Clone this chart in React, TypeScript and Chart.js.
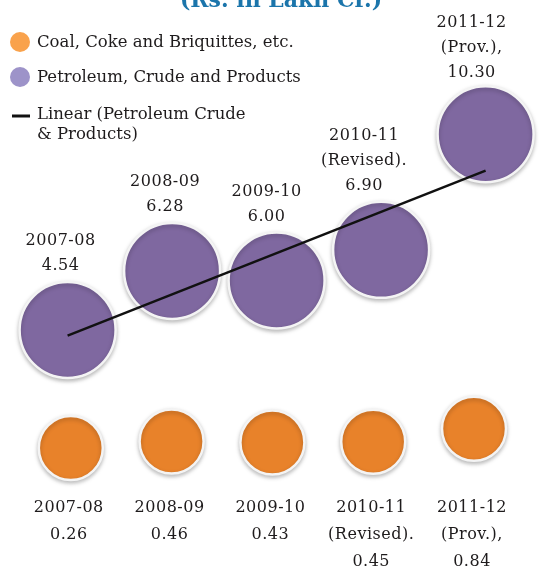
import React, { useEffect, useRef } from "react";
import { Chart, registerables } from "chart.js";

Chart.register(...registerables);

// ---- Data ----
const years = ["2007-08", "2008-09", "2009-10", "2010-11", "2011-12"];
const yearNotes = ["", "", "", "(Revised).", "(Prov.),"];
const petroleum = [4.54, 6.28, 6.0, 6.9, 10.3];
const coal = [0.26, 0.46, 0.43, 0.45, 0.84];
const titleText = "(Rs. in Lakh Cr.)";
const legendCoal = "Coal, Coke and Briquittes, etc.";
const legendPetroleum = "Petroleum, Crude and Products";
const legendTrendLines = ["Linear (Petroleum Crude", "& Products)"];

// ---- Styles / layout ----
const PURPLE = "#7f68a0";
const ORANGE = "#e8822a";
const LEGEND_PURPLE = "#9d93c9";
const LEGEND_ORANGE = "#f9a24c";
const TEXT = "#1e1b1c";
const TITLE = "#1b75ab";
const FONT = "'DejaVu Serif', serif";
const LABEL_FONT = "16px 'DejaVu Serif', serif";
const purpleLabelDx = [-7, -7, -10, -17, -14];
const purpleLabelGap = [16, 16, 16, 16, 13];

function linearFit(vals: number[]) {
  const n = vals.length;
  const mx = (n - 1) / 2;
  const my = vals.reduce((a, b) => a + b, 0) / n;
  let num = 0, den = 0;
  vals.forEach((v, i) => { num += (i - mx) * (v - my); den += (i - mx) * (i - mx); });
  const slope = num / den;
  return (x: number) => my + slope * (x - mx);
}

const overlayPlugin = {
  id: "overlay",
  beforeDatasetDraw(chart: any, args: any) {
    const ds = chart.data.datasets[args.index];
    if (ds.type === "bubble") {
      const ctx = chart.ctx;
      ctx.save();
      ctx.shadowColor = "rgba(0,0,0,0.25)";
      ctx.shadowBlur = 4;
      ctx.shadowOffsetY = 2;
    }
  },
  afterDatasetDraw(chart: any, args: any) {
    const ds = chart.data.datasets[args.index];
    if (ds.type === "bubble") chart.ctx.restore();
  },
  afterDraw(chart: any) {
    const ctx = chart.ctx;
    ctx.save();
    // title (cut off at top)
    ctx.fillStyle = TITLE;
    ctx.font = "bold 22px " + FONT;
    ctx.textAlign = "center";
    ctx.textBaseline = "alphabetic";
    ctx.fillText(titleText, 281, 7);

    // legend
    ctx.textAlign = "left";
    ctx.textBaseline = "middle";
    ctx.font = "16.5px " + FONT;
    ctx.fillStyle = LEGEND_ORANGE;
    ctx.beginPath(); ctx.arc(20, 42, 10, 0, Math.PI * 2); ctx.fill();
    ctx.fillStyle = LEGEND_PURPLE;
    ctx.beginPath(); ctx.arc(20, 77, 10, 0, Math.PI * 2); ctx.fill();
    ctx.strokeStyle = "#111"; ctx.lineWidth = 3;
    ctx.beginPath(); ctx.moveTo(12, 116); ctx.lineTo(30, 116); ctx.stroke();
    ctx.fillStyle = TEXT;
    ctx.fillText(legendCoal, 37, 43);
    ctx.fillText(legendPetroleum, 37, 78);
    ctx.fillText(legendTrendLines[0], 37, 115);
    ctx.fillText(legendTrendLines[1], 37, 135);

    // labels
    ctx.font = LABEL_FONT;
    (ctx as any).letterSpacing = "0.5px";
    ctx.textAlign = "center";
    const pMeta = chart.getDatasetMeta(1);
    pMeta.data.forEach((el: any, i: number) => {
      const lines = [years[i]];
      if (yearNotes[i]) lines.push(yearNotes[i]);
      lines.push(petroleum[i].toFixed(2));
      const r = el.options.radius;
      const bottom = el.y - r - purpleLabelGap[i];
      lines.forEach((t, k) => {
        ctx.fillText(t, el.x + purpleLabelDx[i], bottom - (lines.length - 1 - k) * 25);
      });
    });
    const cMeta = chart.getDatasetMeta(2);
    cMeta.data.forEach((el: any, i: number) => {
      const lines = [years[i]];
      if (yearNotes[i]) lines.push(yearNotes[i]);
      lines.push(coal[i].toFixed(2));
      lines.forEach((t, k) => {
        ctx.fillText(t, el.x - 2, chart.chartArea.bottom - 62 + k * 27);
      });
    });
    ctx.restore();
  },
};

export default function App() {
  const ref = useRef<HTMLCanvasElement>(null);
  useEffect(() => {
    document.body.style.margin = "0";
    const trend = linearFit(petroleum);
    const chart = new Chart(ref.current as HTMLCanvasElement, {
      type: "bubble",
      data: {
        datasets: [
          {
            type: "line",
            label: "Linear (Petroleum Crude & Products)",
            data: [{ x: 0, y: trend(0) }, { x: petroleum.length - 1, y: trend(petroleum.length - 1) }],
            borderColor: "#111",
            borderWidth: 2.5,
            pointRadius: 0,
            xAxisID: "x",
            yAxisID: "y",
          } as any,
          {
            type: "bubble",
            label: legendPetroleum,
            data: petroleum.map((v, i) => ({ x: i, y: v })),
            backgroundColor: PURPLE,
            borderColor: "#f4f4f4",
            borderWidth: 2.5,
            radius: 48,
            hoverRadius: 0,
            xAxisID: "x",
            yAxisID: "y",
            clip: false,
          } as any,
          {
            type: "bubble",
            label: legendCoal,
            data: coal.map((v, i) => ({ x: i, y: v })),
            backgroundColor: ORANGE,
            borderColor: "#f4f4f4",
            borderWidth: 2.5,
            radius: 32,
            hoverRadius: 0,
            xAxisID: "x2",
            yAxisID: "y2",
            clip: false,
          } as any,
        ],
      },
      options: {
        animation: false,
        responsive: false,
        events: [],
        layout: { padding: 0, autoPadding: false },
        plugins: { legend: { display: false }, tooltip: { enabled: false }, title: { display: false } },
        scales: {
          x: { type: "linear", display: false, min: -0.6469, max: 4.578 },
          x2: { type: "linear", display: false, min: -0.7024, max: 4.7143 },
          y: { type: "linear", display: false, min: -2.52, max: 14.25 },
          y2: { type: "linear", display: false, min: -3.437, max: 13.836 },
        },
      },
      plugins: [overlayPlugin],
    });
    return () => chart.destroy();
  }, []);
  return (
    <div style={{ width: 546, height: 570, position: "relative", background: "#fff" }}>
      <canvas ref={ref} width={546} height={570} style={{ display: "block" }} />
    </div>
  );
}
